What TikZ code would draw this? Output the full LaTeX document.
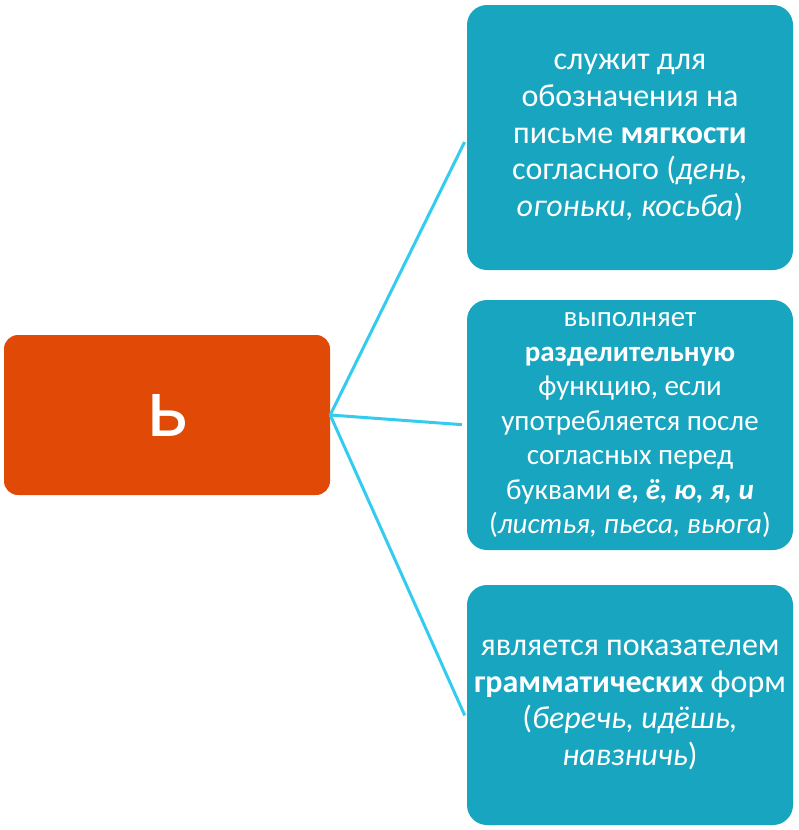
\documentclass[tikz,border=0pt]{standalone}
\usepackage{fontspec}
\setmainfont{Carlito}
\usetikzlibrary{positioning}
\definecolor{softred}{HTML}{E04A06}
\definecolor{usageblue}{HTML}{17A5BF}
\definecolor{linkcyan}{HTML}{33CCEE}
\tikzset{
  letter/.style={fill=softred, rounded corners=14pt, minimum width=326pt,
                 minimum height=160pt, text=white,
                 font=\fontsize{88}{100}\selectfont},
  usage/.style={fill=usageblue, rounded corners=20pt, minimum width=326pt,
                align=center, text=white, inner sep=2pt,
                font=\fontsize{32}{36.7}\selectfont},
  link/.style={draw=linkcyan, line width=3pt, shorten >=5pt},
}

\begin{document}
\begin{tikzpicture}[x=1pt, y=-1pt]
  \useasboundingbox (0,0) rectangle (798,830);

  % The letter
  \node[letter] (soft) at (167,415) {ь};

  % Its uses
  \node[usage, minimum height=265pt] (mark) at (630,137.5)
    {служит для\\обозначения на\\письме \textbf{мягкости}\\согласного (\textit{день,}\\\textit{огоньки, косьба})};
  \node[usage, minimum height=250pt, font=\fontsize{29}{34.5}\selectfont] (split) at (630,425)
    {выполняет\\\textbf{разделительную}\\функцию, если\\употребляется после\\согласных перед\\буквами \textbf{\textit{е, ё, ю, я, и}}\\(\textit{листья, пьеса, вьюга})};
  \node[usage, minimum height=240pt] (forms) at (630,705)
    {является показателем\\\textbf{грамматических} форм\\(\textit{беречь, идёшь,}\\\textit{навзничь})};

  % Connectors
  \draw[link] (soft.east) -- (mark.west);
  \draw[link] (soft.east) -- (split.west);
  \draw[link] (soft.east) -- ([yshift=-15pt]forms.west);

\end{tikzpicture}
\end{document}
